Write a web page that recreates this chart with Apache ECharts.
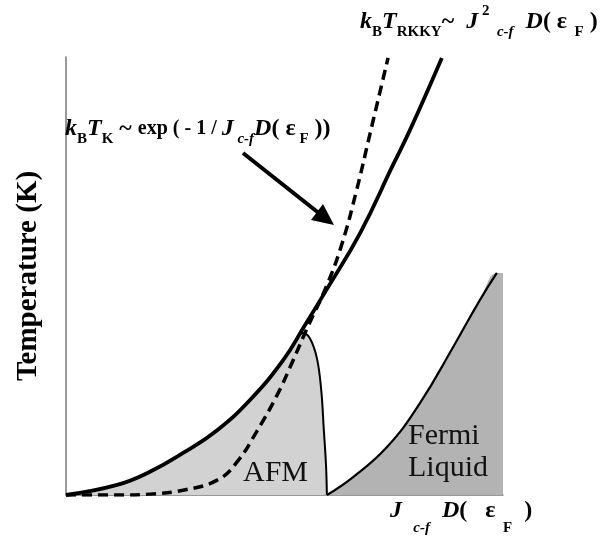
<!DOCTYPE html>
<html>
<head>
<meta charset="utf-8">
<script src="https://cdn.jsdelivr.net/npm/echarts@6/dist/echarts.min.js"></script>
<style>html,body{margin:0;padding:0;background:#fff}#c{width:601px;height:548px}</style>
</head>
<body>
<div id="c"></div>
<script>
// Doniach phase diagram, values in normalised units (x: 0..10, y: 0..10)
var rkkyX = [0, 1.17, 1.92, 2.68, 3.46, 4.21, 4.97, 5.47, 5.97, 6.73, 7.48, 7.87, 8.60];
var rkkyY = [0, 0.23, 0.53, 0.96, 1.48, 2.17, 3.08, 3.88, 4.70, 5.98, 7.53, 8.33, 9.98];

var kondoX = [0, 1.24, 1.92, 2.68, 3.46, 3.91, 4.37, 4.83, 5.19, 5.51, 5.97, 6.32, 6.64, 6.96, 7.37];
var kondoY = [0, 0, 0.02, 0.11, 0.34, 0.75, 1.46, 2.28, 3.06, 3.79, 4.79, 5.75, 6.92, 8.26, 9.98];

var afmX = [0, 1.17, 1.92, 2.68, 3.46, 4.21, 4.97, 5.19, 5.42, 5.58, 5.74, 5.84, 5.90, 5.95, 5.97];
var afmY = [0, 0.23, 0.53, 0.96, 1.48, 2.17, 3.08, 3.40, 3.70, 3.58, 3.13, 2.40, 1.48, 0.68, 0];

var fermiX = [5.97, 6.57, 7.35, 8.10, 8.86, 9.47, 9.86];
var fermiY = [0, 0.41, 1.10, 2.10, 3.38, 4.45, 5.07];
var fermiEdgeX = 10;

function pairs(xs, ys) { return xs.map(function (x, i) { return [x, ys[i]]; }); }
var fermiFill = pairs(fermiX, fermiY).concat([[fermiEdgeX, fermiY[fermiY.length - 1]]]);

var SERIF = "'Liberation Serif', 'Times New Roman', serif";
function richStyles(subPad) {
  return {
    m:  { fontFamily: SERIF, fontWeight: 'bold', fontSize: 24, fill: '#000' },
    e:  { fontFamily: SERIF, fontWeight: 'bold', fontSize: 20, fill: '#000' },
    mi: { fontFamily: SERIF, fontWeight: 'bold', fontStyle: 'italic', fontSize: 24, fill: '#000' },
    s:  { fontFamily: SERIF, fontWeight: 'bold', fontSize: 15, fill: '#000', padding: [subPad, 0, 0, 0] },
    si: { fontFamily: SERIF, fontWeight: 'bold', fontStyle: 'italic', fontSize: 15, fill: '#000', padding: [subPad, 0, 0, 0] },
    p:  { fontFamily: SERIF, fontWeight: 'bold', fontSize: 15, fill: '#000', padding: [0, 0, 22, 0] }
  };
}

var chart = echarts.init(document.getElementById('c'), null, { renderer: 'canvas' });
var axisCommon = {
  type: 'value', min: 0, max: 10,
  axisLabel: { show: false }, axisTick: { show: false }, splitLine: { show: false },
  axisLine: { show: true, lineStyle: { color: '#777', width: 1.5 } }
};
chart.setOption({
  animation: false,
  backgroundColor: '#fff',
  grid: { left: 66, right: 98, top: 57, bottom: 53 },
  xAxis: axisCommon,
  yAxis: Object.assign({}, axisCommon, {
    name: 'Temperature (K)', nameLocation: 'middle', nameRotate: 90, nameGap: 23,
    nameTextStyle: { fontFamily: SERIF, fontWeight: 'bold', fontSize: 29, color: '#000' }
  }),
  series: [
    { type: 'line', data: pairs(afmX, afmY), smooth: 0.4, symbol: 'none', z: 1,
      lineStyle: { color: '#000', width: 2 }, areaStyle: { color: '#d2d2d2', opacity: 1 } },
    { type: 'line', data: fermiFill, smooth: 0.45, symbol: 'none', z: 1,
      lineStyle: { width: 0 }, areaStyle: { color: '#b3b3b3', opacity: 1 } },
    { type: 'line', data: pairs(fermiX, fermiY), smooth: 0.45, symbol: 'none', z: 2,
      lineStyle: { color: '#000', width: 2.2 } },
    { type: 'line', data: pairs(kondoX, kondoY), smooth: 0.45, symbol: 'none', z: 3,
      lineStyle: { color: '#000', width: 3.5, type: [10, 6] } },
    { type: 'line', data: pairs(rkkyX, rkkyY), smooth: 0.45, symbol: 'none', z: 4,
      lineStyle: { color: '#000', width: 3.8 } }
  ],
  graphic: [
    { type: 'text', x: 360, y: 22, z: 10, style: {
      text: '{mi|k}{s|B}{mi|T}{s|RKKY}{m|~  }{mi|J}{p| 2}{si|  c-f}{m|  }{mi|D}{m|( ε}{s|  F}{m| )}',
      rich: richStyles(20), verticalAlign: 'middle', align: 'left' } },
    { type: 'text', x: 65, y: 129, z: 10, style: {
      text: '{mi|k}{s|B}{mi|T}{s|K}{m| ~ }{e|exp ( - 1 / }{mi|J}{si| c-f}{mi|D}{m|( ε}{s| F}{m| ))}',
      rich: richStyles(20), verticalAlign: 'middle', align: 'left' } },
    { type: 'text', x: 390, y: 511, z: 10, style: {
      text: '{mi|J}{si|   c-f}{m|  }{mi|D}{m|(   ε}{s|  F}{m|  )}',
      rich: richStyles(34), verticalAlign: 'middle', align: 'left' } },
    { type: 'text', x: 243, y: 473, z: 10, style: {
      text: 'AFM', fontFamily: SERIF, fontSize: 30, fill: '#111', verticalAlign: 'middle', align: 'left' } },
    { type: 'text', x: 408, y: 436, z: 10, style: {
      text: 'Fermi', fontFamily: SERIF, fontSize: 30, fill: '#111', verticalAlign: 'middle', align: 'left' } },
    { type: 'text', x: 408, y: 468, z: 10, style: {
      text: 'Liquid', fontFamily: SERIF, fontSize: 30, fill: '#111', verticalAlign: 'middle', align: 'left' } },
    { type: 'line', z: 10, shape: { x1: 243, y1: 153, x2: 320, y2: 214 },
      style: { stroke: '#000', lineWidth: 4 } },
    { type: 'polygon', z: 10, shape: { points: [[334, 225], [311, 220], [323, 204]] },
      style: { fill: '#000' } }
  ]
});
</script>
</body>
</html>
